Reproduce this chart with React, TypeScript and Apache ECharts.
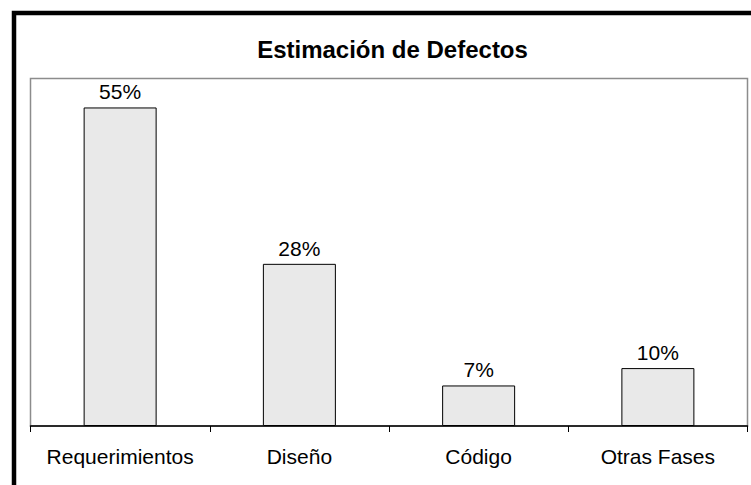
import React, { useEffect, useRef } from "react";
import * as echarts from "echarts";

const categories = ["Requerimientos", "Diseño", "Código", "Otras Fases"];
const values = [55, 28, 7, 10];
const titleText = "Estimación de Defectos";

export default function App() {
  const ref = useRef<HTMLDivElement>(null);
  useEffect(() => {
    document.body.style.margin = "0";
    const chart = echarts.init(ref.current!, null, { renderer: "svg" });
    chart.setOption({
      animation: false,
      backgroundColor: "#ffffff",
      title: {
        text: titleText,
        left: 387.5,
        top: 32,
        textAlign: "center",
        textStyle: { fontFamily: "Liberation Sans", fontWeight: "bold", fontSize: 24, color: "#000" },
      },
      graphic: [
        {
          type: "rect",
          shape: { x: 14, y: 13, width: 900, height: 700 },
          style: { fill: "none", stroke: "#000", lineWidth: 4.5 },
          silent: true,
        },
      ],
      grid: {
        left: 30.5,
        top: 78.5,
        right: 3.5,
        bottom: 59,
        show: true,
        borderColor: "#8c8c8c",
        borderWidth: 1.5,
      },
      xAxis: {
        type: "category",
        data: categories,
        axisLine: { lineStyle: { color: "#000", width: 1.5 } },
        axisTick: { show: true, interval: 0, length: 6, lineStyle: { color: "#000" } },
        axisLabel: { interval: 0, margin: 20, fontFamily: "Liberation Sans", fontSize: 21, color: "#000" },
      },
      yAxis: {
        type: "value",
        min: 0,
        max: 60,
        show: false,
        splitLine: { show: false },
      },
      series: [
        {
          type: "bar",
          data: values,
          barWidth: 73,
          itemStyle: { color: "#e9e9e9", borderColor: "#000", borderWidth: 1 },
          label: {
            show: true,
            position: "top",
            distance: 5,
            formatter: "{c}%",
            fontFamily: "Liberation Sans",
            fontSize: 21,
            color: "#000",
          },
        },
      ],
    });
    return () => chart.dispose();
  }, []);
  return <div ref={ref} style={{ width: 751, height: 485 }} />;
}
